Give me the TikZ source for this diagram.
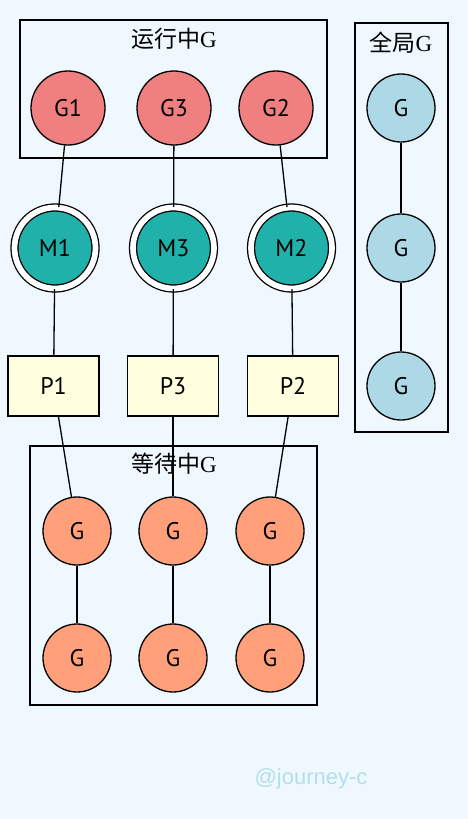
\documentclass[tikz,border=0pt]{standalone}
\usepackage{fontspec}
\setmainfont{Liberation Serif}
\newfontfamily\cjk{Noto Sans CJK SC}
\newfontfamily\lblfont{PT Sans}
\newfontfamily\markfont{Liberation Sans}
\definecolor{bgblue}{HTML}{F0F8FF}
\definecolor{runred}{HTML}{F08080}
\definecolor{mteal}{HTML}{20B2AA}
\definecolor{pyellow}{HTML}{FFFFE0}
\definecolor{globblue}{HTML}{ADD8E6}
\definecolor{waitsalmon}{HTML}{FFA07A}
\definecolor{markblue}{HTML}{B2E0E8}

\tikzset{
  gnode/.style={circle, draw, line width=1.3pt, inner sep=0pt, font=\lblfont\fontsize{24}{24}\selectfont},
  rung/.style={gnode, fill=runred, minimum size=74pt},
  globg/.style={gnode, fill=globblue, minimum size=68pt},
  waitg/.style={gnode, fill=waitsalmon, minimum size=68pt},
  mnode/.style={gnode, fill=mteal, minimum size=81pt, double=white, double distance=5.7pt},
  pbox/.style={rectangle, draw, line width=1.3pt, fill=pyellow, minimum width=91pt, minimum height=60pt, inner sep=0pt, font=\lblfont\fontsize{24}{24}\selectfont},
  cluster/.style={draw, line width=1.3pt},
  title/.style={inner sep=0pt, font=\fontsize{23}{23}\selectfont},
  link/.style={line width=1.3pt}
}

\begin{document}
\begin{tikzpicture}[x=1pt, y=-1pt]
\fill [bgblue] (0, 0) rectangle (468, 819);
\useasboundingbox (0, 0) rectangle (468, 819);
%Clusters
\draw [cluster] (20, 20) rectangle (327, 158);
\draw [cluster] (355, 23) rectangle (448, 432);
\draw [cluster] (30, 446) rectangle (317, 705);
\node [title] (runtitle) at (174, 39) {{\cjk 运行中}G};
\node [title] (globtitle) at (401, 43) {{\cjk 全局}G};
\node [title] (waittitle) at (174, 464) {{\cjk 等待中}G};
%G running
\node [rung] (G1) at (68, 108) {G1};
\node [rung] (G3) at (174, 108) {G3};
\node [rung] (G2) at (276, 108) {G2};
%M
\node [mnode] (M1) at (55, 248) {M1};
\node [mnode] (M3) at (173.5, 248) {M3};
\node [mnode] (M2) at (291.5, 248) {M2};
%P
\node [pbox] (P1) at (53.5, 386) {P1};
\node [pbox] (P3) at (173, 386) {P3};
\node [pbox] (P2) at (293, 386) {P2};
%G waiting
\node [waitg] (W1a) at (77, 531) {G};
\node [waitg] (W3a) at (173, 531) {G};
\node [waitg] (W2a) at (270, 531) {G};
\node [waitg] (W1b) at (77, 658) {G};
\node [waitg] (W3b) at (173, 658) {G};
\node [waitg] (W2b) at (270, 658) {G};
%G global
\node [globg] (GA) at (401, 108) {G};
\node [globg] (GB) at (401, 248) {G};
\node [globg] (GC) at (401, 386) {G};
%Links
\draw [link] (G1) -- (M1);
\draw [link] (G3) -- (M3);
\draw [link] (G2) -- (M2);
\draw [link] (M1) -- (P1);
\draw [link] (M3) -- (P3);
\draw [link] (M2) -- (P2);
\draw [link] (P1) -- (W1a);
\draw [link] (P3) -- (W3a);
\draw [link] (P2) -- (W2a);
\draw [link] (W1a) -- (W1b);
\draw [link] (W3a) -- (W3b);
\draw [link] (W2a) -- (W2b);
\draw [link] (GA) -- (GB);
\draw [link] (GB) -- (GC);
%Text
\node [text=markblue, inner sep=0pt, font=\markfont\fontsize{22}{22}\selectfont] (mark) at (311, 779) {@journey-c};
\end{tikzpicture}
\end{document}
